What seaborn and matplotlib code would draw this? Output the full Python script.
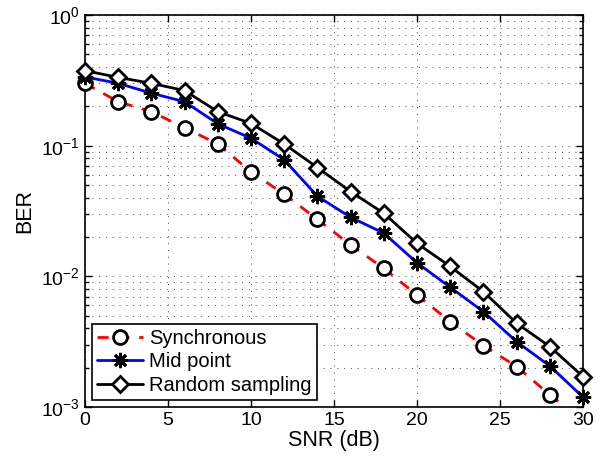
import numpy as np
import pandas as pd
import matplotlib
matplotlib.use("Agg")
import matplotlib.pyplot as plt
import seaborn as sns
from matplotlib.patches import Rectangle
from matplotlib.ticker import LogLocator, MultipleLocator, NullFormatter

snr = [0, 2, 4, 6, 8, 10, 12, 14, 16, 18, 20, 22, 24, 26, 28, 30]
ber_sync = [0.30, 0.217, 0.182, 0.137, 0.103, 0.063, 0.0425, 0.0273, 0.0174,
            0.0115, 0.0072, 0.0045, 0.00295, 0.00204, 0.00124, 0.00078]
ber_mid = [0.336, 0.30, 0.252, 0.217, 0.147, 0.114, 0.078, 0.041, 0.0283,
           0.0214, 0.0127, 0.00824, 0.00537, 0.00316, 0.00206, 0.00119]
ber_rand = [0.375, 0.333, 0.30, 0.264, 0.182, 0.148, 0.103, 0.068, 0.0445,
            0.0304, 0.0179, 0.0119, 0.00763, 0.00438, 0.0029, 0.00171]
labels = ["Synchronous", "Mid point", "Random sampling"]

df = pd.DataFrame({
    "SNR": snr * 3,
    "BER": ber_sync + ber_mid + ber_rand,
    "Scheme": [labels[0]] * len(snr) + [labels[1]] * len(snr) + [labels[2]] * len(snr),
})

sns.set_style("ticks")
plt.rcParams["font.family"] = ["Liberation Sans", "DejaVu Sans"]
plt.rcParams["mathtext.fontset"] = "custom"
plt.rcParams["mathtext.rm"] = "Liberation Sans"
plt.rcParams["mathtext.it"] = "Liberation Sans:italic"
plt.rcParams["text.color"] = "black"
plt.rcParams["axes.labelcolor"] = "black"
plt.rcParams["xtick.color"] = "black"
plt.rcParams["ytick.color"] = "black"

fig = plt.figure(figsize=(6.03, 4.58), dpi=100)
ax = fig.add_axes([85 / 603, 1 - 407 / 458, (583 - 85) / 603, (407 - 15) / 458])

styles = {
    labels[0]: dict(color="red", dashes=(4, 3.5), marker="o", ms=10),
    labels[1]: dict(color="blue", dashes=(), marker=(8, 2, 0), ms=11),
    labels[2]: dict(color="black", dashes=(), marker="D", ms=8),
}
clip_rect = Rectangle((-0.05, 0.0), 1.1, 1.05, transform=ax.transAxes,
                      facecolor="none", edgecolor="none")
for lab in labels:
    s = styles[lab]
    sub = df[df["Scheme"] == lab]
    sns.lineplot(data=sub, x="SNR", y="BER", ax=ax, color=s["color"],
                 marker=s["marker"], markersize=s["ms"], markerfacecolor="white",
                 markeredgecolor="black", markeredgewidth=2, linewidth=2,
                 label=lab, zorder=3)
    ln = ax.lines[-1]
    if s["dashes"]:
        ln.set_dashes(s["dashes"])
    ln.set_clip_path(clip_rect)

ax.set_yscale("log")
ax.set_xlim(0, 30)
ax.set_ylim(1e-3, 1)
ax.xaxis.set_major_locator(MultipleLocator(5))
ax.yaxis.set_major_locator(LogLocator(base=10, numticks=10))
ax.yaxis.set_minor_locator(LogLocator(base=10, subs=np.arange(2, 10), numticks=20))
ax.yaxis.set_minor_formatter(NullFormatter())

gstyle = dict(color="0.3", linestyle=(0, (1, 6)), linewidth=0.7)
ax.grid(True, which="major", axis="both", **gstyle)
ax.grid(True, which="minor", axis="y", **gstyle)
ax.set_axisbelow(True)

ax.tick_params(which="both", direction="in", top=True, right=True, labelsize=14, width=1)
ax.tick_params(which="major", length=5)
ax.tick_params(which="minor", length=3)
for sp in ax.spines.values():
    sp.set_linewidth(1.2)
    sp.set_color("black")

ax.set_xlabel("SNR (dB)", fontsize=15.5, labelpad=1)
ax.set_ylabel("BER", fontsize=15.5, labelpad=4)

leg = ax.legend(loc="lower left", fontsize=14.5, frameon=True, fancybox=False,
                edgecolor="black", framealpha=1, borderpad=0.25, labelspacing=0.22,
                handlelength=2.3, handletextpad=0.3, borderaxespad=0.35)
leg.get_frame().set_linewidth(1.2)

fig.savefig("out.png", dpi=100)
